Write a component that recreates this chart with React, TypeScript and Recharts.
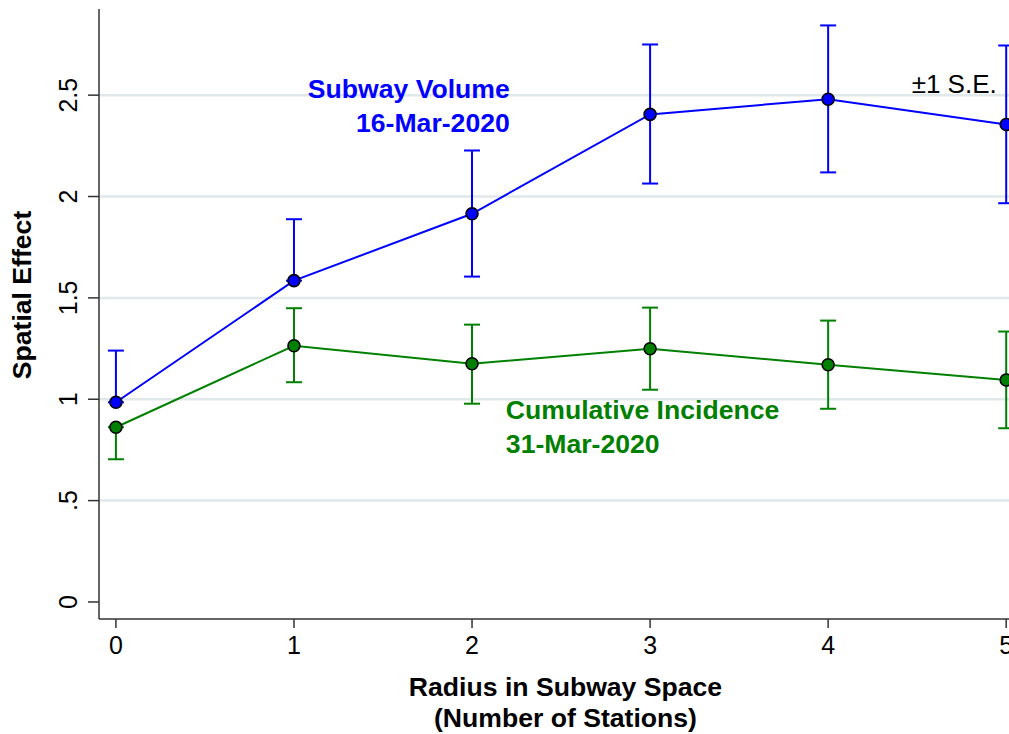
import React from 'react';
import {
  LineChart,
  Line,
  XAxis,
  YAxis,
  ErrorBar,
  ReferenceLine,
  ReferenceDot,
  Label,
} from 'recharts';

const FONT = '"Liberation Sans", Arial, Helvetica, sans-serif';
const BLUE = '#0000ff';
const GREEN = '#008000';

// radius in subway space (number of stations)
const radius = [0, 1, 2, 3, 4, 5];

// Subway volume, 16-Mar-2020 (lower bars at 0 and 1 are not drawn in the original)
const subwayEffect = [0.985, 1.585, 1.915, 2.405, 2.48, 2.355];
const subwayUpper = [1.24, 1.888, 2.227, 2.75, 2.844, 2.745];
const subwayLower = [0.985, 1.585, 1.605, 2.064, 2.119, 1.967];

// Cumulative incidence, 31-Mar-2020 (upper bar at 0 is not drawn)
const incidenceEffect = [0.862, 1.264, 1.175, 1.249, 1.17, 1.095];
const incidenceUpper = [0.862, 1.449, 1.368, 1.452, 1.388, 1.334];
const incidenceLower = [0.704, 1.084, 0.978, 1.047, 0.953, 0.857];

const yTicks = [0, 0.5, 1, 1.5, 2, 2.5];
const gridValues = [0.5, 1, 1.5, 2, 2.5];

const subwayNote = ['Subway Volume', '16-Mar-2020'];
const subwayNoteAt = [2.212, 2.486];
const incidenceNote = ['Cumulative Incidence', '31-Mar-2020'];
const incidenceNoteAt = [2.19, 0.903];
const seNote = '±1 S.E.';
const seNoteAt = [4.947, 2.511];

const data = radius.map((r, i) => ({
  r,
  subway: subwayEffect[i],
  subwayErr: [subwayEffect[i] - subwayLower[i], subwayUpper[i] - subwayEffect[i]],
  incidence: incidenceEffect[i],
  incidenceErr: [incidenceEffect[i] - incidenceLower[i], incidenceUpper[i] - incidenceEffect[i]],
}));

function fmtY(v: number): string {
  if (v === 0) return '0';
  const s = String(v);
  return s.startsWith('0.') ? s.slice(1) : s;
}

function YTick({ y, payload }: any) {
  return (
    <text
      transform={`translate(77, ${y}) rotate(-90)`}
      textAnchor="middle"
      fontSize={25}
      fontFamily={FONT}
      fill="#000"
    >
      {fmtY(payload.value)}
    </text>
  );
}

function XTick({ x, payload }: any) {
  return (
    <text x={x} y={654} textAnchor="middle" fontSize={25} fontFamily={FONT} fill="#000">
      {payload.value}
    </text>
  );
}

function noteShape(lines: string[], color: string, anchor: 'start' | 'end') {
  return ({ cx, cy }: any) => (
    <text fontFamily={FONT} fontWeight="bold" fontSize={26.6} fill={color} textAnchor={anchor}>
      {lines.map((t, i) => (
        <tspan key={t} x={cx} y={cy + i * 34}>
          {t}
        </tspan>
      ))}
    </text>
  );
}

export default function App() {
  return (
    <div
      style={{
        position: 'absolute',
        left: 0,
        top: 0,
        width: 1009,
        height: 734,
        overflow: 'hidden',
        background: '#fff',
      }}
    >
      <LineChart
        width={1040}
        height={734}
        data={data}
        margin={{ top: 9, right: 16, bottom: 0, left: 39 }}
      >
        <XAxis
          type="number"
          dataKey="r"
          domain={[-0.095, 5.1]}
          ticks={radius}
          allowDataOverflow
          height={115}
          tickSize={9}
          axisLine={{ stroke: '#333', strokeWidth: 1.5 }}
          tickLine={{ stroke: '#333', strokeWidth: 1.5 }}
          tick={<XTick />}
        >
          <Label
            content={({ viewBox }: any) => {
              const cx = viewBox.x + viewBox.width / 2 + 4;
              return (
                <text fontFamily={FONT} fontWeight="bold" fontSize={26.6} fill="#000" textAnchor="middle">
                  <tspan x={cx} y={viewBox.y + 77}>Radius in Subway Space</tspan>
                  <tspan x={cx} y={viewBox.y + 108}>(Number of Stations)</tspan>
                </text>
              );
            }}
          />
        </XAxis>
        <YAxis
          type="number"
          domain={[-0.084, 2.925]}
          ticks={yTicks}
          allowDataOverflow
          width={60}
          tickSize={11}
          axisLine={{ stroke: '#333', strokeWidth: 1.5 }}
          tickLine={{ stroke: '#333', strokeWidth: 1.5 }}
          tick={<YTick />}
        >
          <Label
            content={({ viewBox }: any) => {
              const x = 31;
              const y = viewBox.y + viewBox.height / 2 - 19;
              return (
                <text
                  transform={`translate(${x}, ${y}) rotate(-90)`}
                  textAnchor="middle"
                  fontFamily={FONT}
                  fontWeight="bold"
                  fontSize={26.6}
                  fill="#000"
                >
                  Spatial Effect
                </text>
              );
            }}
          />
        </YAxis>
        {gridValues.map((v) => (
          <ReferenceLine key={v} y={v} stroke="#e1e8ea" strokeWidth={2.5} />
        ))}
        <Line
          type="linear"
          dataKey="subway"
          stroke={BLUE}
          strokeWidth={2}
          dot={{ r: 6, fill: BLUE, stroke: '#000', strokeWidth: 1.6 }}
          activeDot={false}
          isAnimationActive={false}
        >
          <ErrorBar
            dataKey="subwayErr"
            direction="y"
            width={8}
            stroke={BLUE}
            strokeWidth={2}
            isAnimationActive={false}
          />
        </Line>
        <Line
          type="linear"
          dataKey="incidence"
          stroke={GREEN}
          strokeWidth={2}
          dot={{ r: 6, fill: GREEN, stroke: '#000', strokeWidth: 1.6 }}
          activeDot={false}
          isAnimationActive={false}
        >
          <ErrorBar
            dataKey="incidenceErr"
            direction="y"
            width={8}
            stroke={GREEN}
            strokeWidth={2}
            isAnimationActive={false}
          />
        </Line>
        <ReferenceDot
          x={subwayNoteAt[0]}
          y={subwayNoteAt[1]}
          r={0}
          shape={noteShape(subwayNote, BLUE, 'end')}
        />
        <ReferenceDot
          x={incidenceNoteAt[0]}
          y={incidenceNoteAt[1]}
          r={0}
          shape={noteShape(incidenceNote, GREEN, 'start')}
        />
        <ReferenceDot
          x={seNoteAt[0]}
          y={seNoteAt[1]}
          r={0}
          shape={({ cx, cy }: any) => (
            <text x={cx} y={cy} textAnchor="end" fontFamily={FONT} fontSize={26} fill="#000">
              {seNote}
            </text>
          )}
        />
      </LineChart>
    </div>
  );
}
